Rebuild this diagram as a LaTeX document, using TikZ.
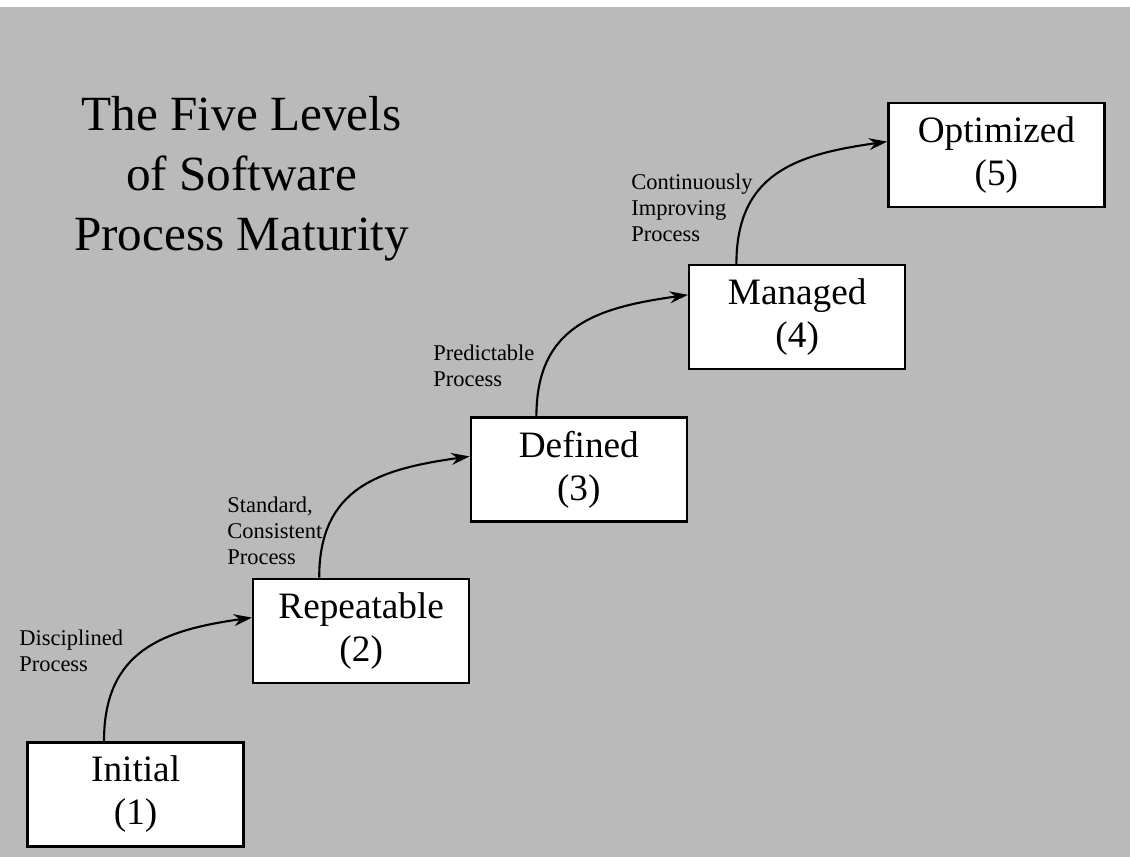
\documentclass[tikz,border=0pt]{standalone}
\usepackage{fontspec}
\setmainfont{Liberation Serif}
\usetikzlibrary{positioning,arrows.meta}

\definecolor{bggray}{gray}{0.73}

\begin{document}
\begin{tikzpicture}
% page and shaded backdrop
   \useasboundingbox (0,0) rectangle (28.25,-21.425);
   \fill [bggray] (0,-0.175) rectangle (28.25,-21.425);
% Draw maturity staircase
   \begin{scope}[ on grid,>={Stealth[length=13pt,width=8.5pt]},
                   level/.style={rectangle,draw,fill=white,line width=1.7pt,
                     minimum width=5.4cm,minimum height=2.6cm,align=center,
                     font=\fontsize{26.5}{30.5}\selectfont},
                   note/.style={inner sep=0pt,anchor=west,align=left,
                     font=\fontsize{16}{18.5}\selectfont},
                   title/.style={inner sep=0pt,align=center,
                     font=\fontsize{35}{42.7}\selectfont} ]
     \node [title] (head) at (6.04,-4.46) {The Five Levels\\of Software\\Process Maturity};
     \node [level] (lv1) at (3.39,-19.86)                   {Initial\\(1)};
     \node [level] (lv2) [above right=4.09cm and 5.64cm of lv1] {Repeatable\\(2)};
     \node [level] (lv3) [above right=4.03cm and 5.44cm of lv2] {Defined\\(3)};
     \node [level] (lv4) [above right=3.81cm and 5.46cm of lv3] {Managed\\(4)};
     \node [level] (lv5) [above right=4.05cm and 4.98cm of lv4] {Optimized\\(5)};
     \draw [line width=1.5pt] ([xshift=-0.79cm]lv1.north) edge [->,out=90,in=188,looseness=1.2] ([yshift=0.33cm]lv2.west);
     \draw [line width=1.5pt] ([xshift=-1.05cm]lv2.north) edge [->,out=90,in=188,looseness=1.2] ([yshift=0.33cm]lv3.west);
     \draw [line width=1.5pt] ([xshift=-1.06cm]lv3.north) edge [->,out=90,in=188,looseness=1.2] ([yshift=0.56cm]lv4.west);
     \draw [line width=1.5pt] ([xshift=-1.52cm]lv4.north) edge [->,out=90,in=188,looseness=1.2] ([yshift=0.34cm]lv5.west);
     \node [note] (n1) at (0.475,-16.27)  {Disciplined\\Process};
     \node [note] (n2) at (5.675,-13.275) {Standard,\\Consistent\\Process};
     \node [note] (n3) at (10.825,-9.15)  {Predictable\\Process};
     \node [note] (n4) at (15.775,-5.19)  {Continuously\\Improving\\Process};
   \end{scope}
\end{tikzpicture}
\end{document}
